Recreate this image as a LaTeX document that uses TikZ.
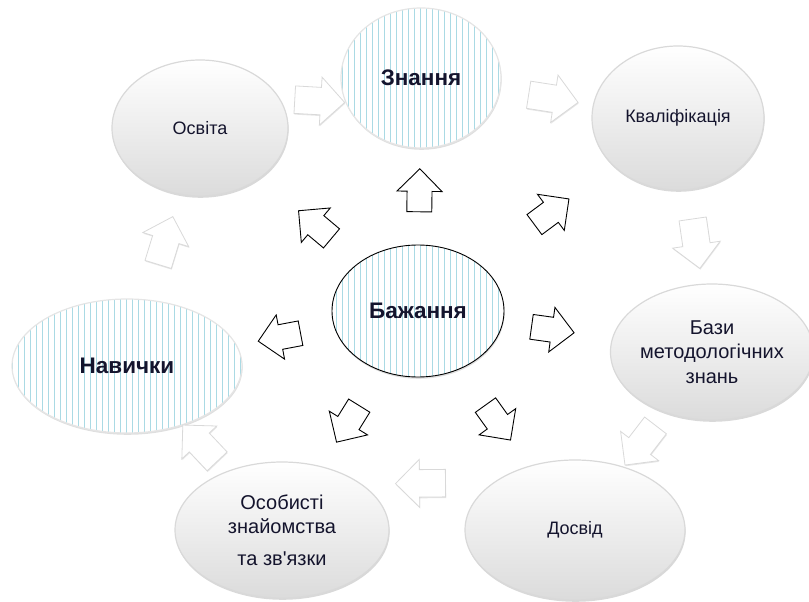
\documentclass[tikz,border=0pt]{standalone}
\usepackage{fontspec}
\newfontfamily\uafont{Liberation Sans}
\usetikzlibrary{shapes.geometric,shapes.arrows,shadows,patterns.meta}

\definecolor{stripe}{RGB}{170,218,228}
\definecolor{inktext}{RGB}{20,20,45}

\tikzset{
	ball/.style={ellipse, draw=gray!30, line width=1.2pt, top color=white, middle color=black!3, bottom color=black!14,
		drop shadow={opacity=0.3, shadow xshift=0.6pt, shadow yshift=-1.8pt},
		inner sep=0pt, align=center, text=inktext, font=\uafont\fontsize{18}{24}\selectfont},
	striped/.style={ellipse, draw=gray!20, line width=1.2pt,
		drop shadow={opacity=0.25, shadow xshift=0.6pt, shadow yshift=-1.8pt},
		preaction={fill=white},
		pattern={Lines[angle=90, distance=6pt, line width=1pt]}, pattern color=stripe,
		inner sep=0pt, align=center, text=inktext, font=\uafont\bfseries\fontsize{22.5}{26}\selectfont},
	innerarrow/.style={single arrow, draw=black, line width=0.9pt, fill=white, inner xsep=0pt, inner ysep=12pt,
		minimum height=43pt, minimum width=45pt, single arrow head extend=10pt, sloped, allow upside down},
	outerarrow/.style={single arrow, draw=gray!30, line width=0.8pt, fill=white, inner xsep=0pt, inner ysep=13pt,
		drop shadow={opacity=0.2, shadow xshift=0.5pt, shadow yshift=-1.2pt},
		minimum height=50pt, minimum width=48pt, single arrow head extend=10pt, sloped, allow upside down}
}

\begin{document}
\begin{tikzpicture}[x=1pt, y=-1pt]
	\useasboundingbox (0,0) rectangle (809,602);

	\node[striped, minimum width=160pt, minimum height=140pt] (znan) at (421,78) {Знання};
	\node[ball, minimum width=176pt, minimum height=136pt] (osv) at (200,128) {Освіта};
	\node[ball, minimum width=172pt, minimum height=144pt] (kval) at (678,118) {Кваліфікація};
	\node[ball, minimum width=196pt, minimum height=136pt, font=\uafont\fontsize{20}{24.5}\selectfont] (bazy) at (712,352) {Бази\\методологічних\\знань};
	\node[ball, minimum width=220pt, minimum height=140pt] (dosv) at (575,530) {Досвід};
	\node[ball, minimum width=214pt, minimum height=136pt, font=\uafont\fontsize{20}{24}\selectfont] (osob) at (282,530) {Особисті\\знайомства\\[8pt]та зв'язки};
	\node[striped, minimum width=230pt, minimum height=134pt] (navy) at (127,366) {Навички};
	\node[striped, draw=black, line width=0.9pt, minimum width=172pt, minimum height=132pt] (bazh) at (418,311) {Бажання};

	% outer ring
	\path (osv.20) -- node[outerarrow] (oa1) {} (znan.198);
	\path (znan) -- node[outerarrow] (oa2) {} (kval);
	\path (kval) -- node[outerarrow] (oa3) {} (bazy);
	\path (bazy) -- node[outerarrow] (oa4) {} (dosv);
	\path (dosv.150) -- node[outerarrow] (oa5) {} (osob.30);
	\path (osob) -- node[outerarrow] (oa6) {} (navy);
	\path (navy) -- node[outerarrow] (oa7) {} (osv);

	% from the centre
	\path (bazh) -- node[innerarrow] (ia1) {} (znan);
	\path (bazh) -- node[innerarrow, pos=0.4] (ia2) {} (osv);
	\path (bazh) -- node[innerarrow] (ia3) {} (kval);
	\path (bazh) -- node[innerarrow] (ia4) {} (navy);
	\path (bazh) -- node[innerarrow, pos=0.4] (ia5) {} (bazy);
	\path (bazh) -- node[innerarrow] (ia6) {} (osob);
	\path (bazh) -- node[innerarrow] (ia7) {} (dosv);
\end{tikzpicture}
\end{document}
